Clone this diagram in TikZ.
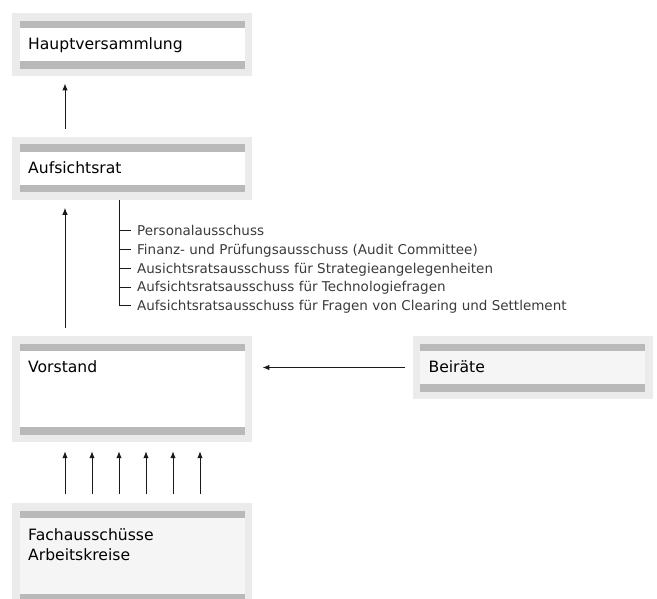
\documentclass[tikz,border=0pt]{standalone}
\usepackage{fontspec}
\setmainfont{DejaVu Sans}
\usepackage{xcolor}
\usetikzlibrary{arrows.meta,positioning,calc}

\definecolor{rahmen}{HTML}{EBEBEB}
\definecolor{balken}{HTML}{B9B9B9}
\definecolor{hell}{HTML}{F5F5F5}
\definecolor{linie}{HTML}{1A1A1A}
\definecolor{schrift}{HTML}{3A3A3A}

\begin{document}
\begin{tikzpicture}[x=1pt, y=1pt, font=\fontsize{15.6}{20}\selectfont, every node/.style={inner sep=0pt}]
        \tikzset{
            kasten/.style={rectangle, fill=rahmen, minimum width=240pt, minimum height=63pt,
                path picture={
                    \fill[#1] ([shift={(7.5pt,-15pt)}]path picture bounding box.north west) rectangle ([shift={(-7.5pt,15pt)}]path picture bounding box.south east);
                    \fill[balken] ([shift={(7.5pt,-7.5pt)}]path picture bounding box.north west) rectangle ([shift={(-7.5pt,-15pt)}]path picture bounding box.north east);
                    \fill[balken] ([shift={(7.5pt,15pt)}]path picture bounding box.south west) rectangle ([shift={(-7.5pt,7.5pt)}]path picture bounding box.south east);
                }},
            kasten/.default=white,
            hoch/.style={minimum height=106pt},
            titel/.style={anchor=base west, xshift=16pt, yshift=-37pt, align=left, text=black},
            ausschuss/.style={font=\fontsize{13.5}{16}\selectfont, text=schrift, inner xsep=6pt, text height=9.5pt, text depth=0pt},
            pfeil/.style={-{Latex[length=7pt,width=5.5pt]}, draw=linie, line width=1pt},
            ast/.style={draw=linie, line width=0.9pt}
        }
        \useasboundingbox (0,0) rectangle (657,-599);

        % Boxes
        \node[kasten, anchor=north west, label={[titel]north west:Hauptversammlung}] (hv) at (12,-13) {};
        \node[kasten, below=60pt of hv, label={[titel]north west:Aufsichtsrat}] (ar) {};
        \node[kasten, hoch, below=136pt of ar, label={[titel]north west:Vorstand}] (vs) {};
        % two lines: base anchor sits on the last line
        \node[kasten=hell, hoch, below=61pt of vs, label={[titel, yshift=-20pt]north west:{Fachausschüsse\\Arbeitskreise}}] (fa) {};
        \node[kasten=hell, right=160pt of vs.north east, anchor=north west, label={[titel]north west:Beiräte}] (br) {};

        % Committees of the supervisory board
        \node[ausschuss, anchor=west] (k1) at ([shift={(119pt,-31pt)}]ar.south west) {Personalausschuss};
        \node[ausschuss, below=18.75pt of k1.west, anchor=west] (k2) {Finanz- und Prüfungsausschuss (Audit Committee)};
        \node[ausschuss, below=18.75pt of k2.west, anchor=west] (k3) {Ausichtsratsausschuss für Strategieangelegenheiten};
        \node[ausschuss, below=18.75pt of k3.west, anchor=west] (k4) {Aufsichtsratsausschuss für Technologiefragen};
        \node[ausschuss, below=18.75pt of k4.west, anchor=west] (k5) {Aufsichtsratsausschuss für Fragen von Clearing und Settlement};

        \coordinate (stamm) at ([xshift=107pt]ar.south west);
        \draw[ast] (stamm) |- (k5.west);
        \foreach \k in {k1,k2,k3,k4}
            \draw[ast] (stamm |- \k.west) -- (\k.west);

        % Arrows
        \draw[pfeil, shorten <=7pt, shorten >=7pt] ([xshift=53pt]ar.north west) -- ([xshift=53pt]hv.south west);
        \draw[pfeil, shorten <=8pt, shorten >=8pt] ([xshift=53pt]vs.north west) -- ([xshift=53pt]ar.south west);
        \foreach \i in {0,...,5}
            \draw[pfeil, shorten <=9pt, shorten >=9pt] ([xshift=53pt+\i*27pt]fa.north west) -- ([xshift=53pt+\i*27pt]vs.south west);
        \draw[pfeil, shorten <=7pt, shorten >=10pt] (br.west) -- (br.west -| vs.east);
    \end{tikzpicture}
\end{document}
